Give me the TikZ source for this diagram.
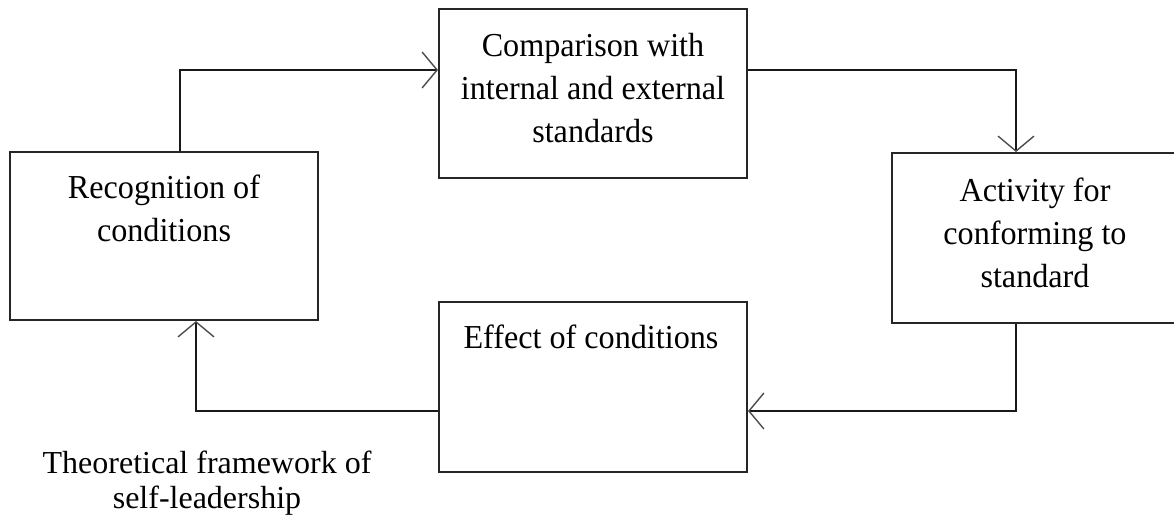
\documentclass[tikz,border=0pt]{standalone}
\usepackage{fontspec}
\setmainfont{Liberation Serif}
\newfontfamily\boxfont[FakeStretch=0.96]{Liberation Serif}
\usetikzlibrary{arrows.meta,calc}
\tikzset{
  box/.style={draw=black!85, line width=2pt, rectangle, inner sep=0pt},
  boxtext/.style={anchor=base, align=center, inner sep=0pt,
    font=\boxfont\fontsize{33.5}{43}\selectfont},
  conn/.style={draw=black!90, line width=2pt,
    -{Straight Barb[length=15pt,width=36pt,line width=1.4pt,color=black!70]}},
  captext/.style={anchor=base, align=center, inner sep=0pt,
    font=\fontsize{32}{35}\selectfont}
}
\begin{document}
\begin{tikzpicture}[x=1pt,y=-1pt]
\useasboundingbox (0,0) rectangle (1174,525);
% boxes
\node[box, minimum width=308pt, minimum height=168pt] (rec) at (164,236) {};
\node[box, minimum width=308pt, minimum height=169pt] (comp) at (593,93.5) {};
\node[box, minimum width=286pt, minimum height=170pt] (act) at (1035,238) {};
\node[box, minimum width=308pt, minimum height=170pt] (eff) at (593,387) {};
% texts (base anchor = baseline of last line)
\node[boxtext] (rect) at ($(rec.north)+(0,90)$) {Recognition of\\conditions};
\node[boxtext] (compt) at ($(comp.north)+(0,134)$) {Comparison with\\internal and external\\standards};
\node[boxtext] (actt) at ($(act.north)+(0,135)$) {Activity for\\conforming to\\standard};
\node[boxtext] (efft) at ($(eff.north)+(-2,47)$) {Effect of conditions};
\node[captext] (cap) at (207,508) {Theoretical framework of\\self-leadership};
% connectors
\draw[conn] ($(rec.north)+(16,0)$) |- ($(comp.west)+(0,-23.5)$);
\draw[conn] ($(comp.east)+(0,-23.5)$) -| ($(act.north)+(-19,0)$);
\draw[conn] ($(act.south)+(-19,0)$) |- ($(eff.east)+(0,24)$);
\draw[conn] ($(eff.west)+(0,24)$) -| ($(rec.south)+(32,0)$);
\end{tikzpicture}
\end{document}
